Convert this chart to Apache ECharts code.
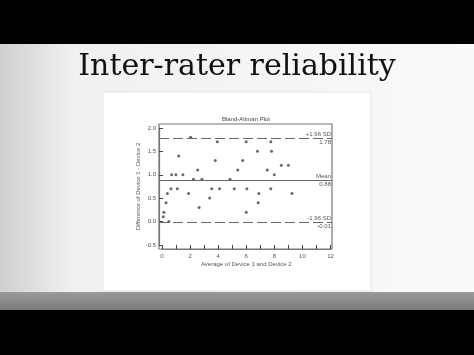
<!DOCTYPE html>
<html><head><meta charset="utf-8">
<script src="https://cdn.jsdelivr.net/npm/echarts@6/dist/echarts.min.js"></script>
<style>html,body{margin:0;padding:0;background:#000;}#c{width:474px;height:355px;}</style>
</head><body><div id="c"></div>
<script>
const slideTitle = 'Inter-rater reliability';
const plotTitle = 'Bland-Altman Plot';
const xAxisName = 'Average of Device 1 and Device 2';
const yAxisName = 'Difference of Device 1 - Device 2';
const averages = [0.1,0.15,0.3,0.4,0.5,0.65,0.7,1.0,1.1,1.2,1.5,1.9,2.05,2.25,2.55,2.65,2.85,3.4,3.55,3.8,3.95,4.1,4.85,5.15,5.4,5.75,6.0,6.05,6.0,6.8,6.85,6.9,7.5,7.75,7.8,7.75,8.0,8.5,9.0,9.25];
const differences = [0.1,0.2,0.4,0.6,0.0,0.7,1.0,1.0,0.7,1.4,1.0,0.6,1.8,0.9,1.1,0.3,0.9,0.5,0.7,1.3,1.7,0.7,0.9,0.7,1.1,1.3,1.7,0.7,0.2,1.5,0.4,0.6,1.1,1.7,1.5,0.7,1.0,1.2,1.2,0.6];
const refNames = ['+1.96 SD', 'Mean', '-1.96 SD'];
const refValues = [1.78, 0.88, -0.01];
const refLabels = ['1.78', '0.88', '-0.01'];

const chart = echarts.init(document.getElementById('c'), null, {renderer: 'canvas'});
const pts = averages.map((a, i) => [a, differences[i]]);
const mlData = [];
refValues.forEach((v, i) => {
  const ls = {color: '#666', width: 1, type: i === 1 ? 'solid' : [10, 4]};
  mlData.push({yAxis: v, lineStyle: ls, label: {show: true, position: 'insideEndTop', formatter: refNames[i], fontSize: 6, color: '#555', distance: 1}});
  mlData.push({yAxis: v, lineStyle: ls, label: {show: true, position: 'insideEndBottom', formatter: refLabels[i], fontSize: 6, color: '#555', distance: 1}});
});
const lab = {fontSize: 6, color: '#555'};
const tick = {show: true, inside: true, length: 4, lineStyle: {color: '#444', width: 1}};
const aLine = {show: true, onZero: false, lineStyle: {color: '#777', width: 1.2}};
chart.setOption({
  animation: false,
  backgroundColor: '#000',
  graphic: [
    {type: 'rect', shape: {x: 0, y: 44, width: 474, height: 266}, style: {fill: new echarts.graphic.LinearGradient(0, 0, 1, 0, [{offset: 0, color: '#cfcfcf'}, {offset: 0.15, color: '#f0f0f0'}, {offset: 1, color: '#fafafa'}])}, z: -10},
    {type: 'rect', shape: {x: 0, y: 292, width: 474, height: 18}, style: {fill: new echarts.graphic.LinearGradient(0, 0, 0, 1, [{offset: 0, color: '#9a9a9a'}, {offset: 1, color: '#7a7a7a'}])}, z: -9},
    {type: 'rect', shape: {x: 103, y: 92, width: 268, height: 199}, style: {fill: '#ffffff', stroke: '#e6e6e6', lineWidth: 1}, z: -8},
    {type: 'text', x: 237, y: 52, style: {text: slideTitle, font: '30px "DejaVu Serif", serif', fill: '#111', align: 'center', verticalAlign: 'top'}, z: 5},
    {type: 'text', x: 246, y: 119, style: {text: plotTitle, font: '6px "Liberation Sans", sans-serif', fill: '#444', align: 'center', verticalAlign: 'middle'}, z: 5}
  ],
  grid: [
    {left: 159, right: 142, top: 124, bottom: 106, show: true, borderColor: '#777', borderWidth: 1.2, backgroundColor: 'transparent'},
    {left: 162, right: 143.5, top: 128, bottom: 110}
  ],
  xAxis: [
    {gridIndex: 0, type: 'value', min: -0.2, max: 12.1, show: false},
    {gridIndex: 1, type: 'value', min: 0, max: 12, interval: 1, offset: 4,
      name: xAxisName, nameLocation: 'middle', nameGap: 12, nameTextStyle: lab,
      axisLine: aLine, splitLine: {show: false}, axisTick: tick,
      axisLabel: Object.assign({margin: 4, formatter: v => (v % 2 === 0 ? String(v) : '')}, lab)}
  ],
  yAxis: [
    {gridIndex: 0, type: 'value', min: -0.585, max: 2.08, show: false},
    {gridIndex: 1, type: 'value', min: -0.5, max: 2.0, interval: 0.5, offset: 3,
      name: yAxisName, nameLocation: 'middle', nameGap: 16, nameRotate: 90, nameTextStyle: lab,
      axisLine: aLine, splitLine: {show: false}, axisTick: tick,
      axisLabel: Object.assign({margin: 3, formatter: v => v.toFixed(1)}, lab)}
  ],
  series: [{
    type: 'scatter', xAxisIndex: 0, yAxisIndex: 0, data: pts, symbolSize: 3,
    itemStyle: {color: '#444'},
    markLine: {symbol: 'none', silent: true, animation: false, data: mlData}
  }]
});
</script></body></html>
